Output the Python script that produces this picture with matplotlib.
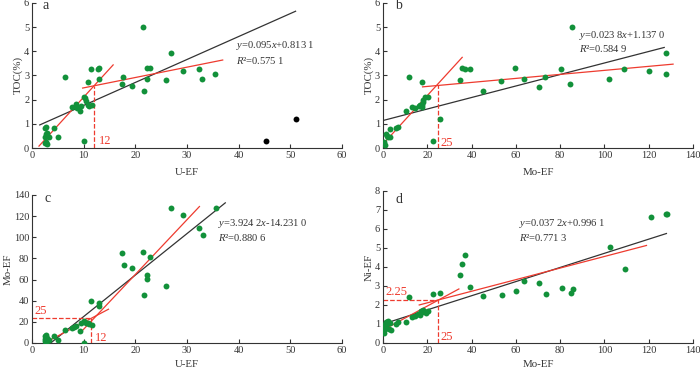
import numpy as np
import matplotlib
matplotlib.use("Agg")
import matplotlib.pyplot as plt

plt.rcParams['font.family'] = ['Liberation Serif', 'DejaVu Serif']
plt.rcParams['mathtext.fontset'] = 'custom'
plt.rcParams['mathtext.rm'] = 'Liberation Serif'
plt.rcParams['mathtext.it'] = 'Liberation Serif:italic'

GREEN = "#12913a"
RED = "#ee3b2f"
DARK = "#333333"

# ---- data ----
# a: U-EF vs TOC
u_a = [21.5, 26.8, 6.45, 11.5, 12.8, 13.0, 10.8, 12.9, 17.7, 17.5, 19.3, 22.2, 22.8, 22.3, 21.7,
       25.9, 29.3, 32.3, 32.9, 35.5, 10.1, 10.2, 10.5, 8.5, 8.7, 9.2, 7.7, 9.4, 10.8, 11.1, 11.6,
       2.6, 2.8, 4.3, 2.5, 2.8, 3.0, 2.9, 3.3, 2.5, 2.8, 3.0, 5.1, 10.1]
toc_a = [5.0, 3.92, 2.93, 3.28, 3.26, 3.3, 2.73, 2.84, 2.95, 2.66, 2.55, 3.3, 3.29, 2.86, 2.37,
         2.8, 3.2, 3.28, 2.86, 3.07, 2.13, 2.05, 1.93, 1.83, 1.66, 1.52, 1.68, 1.72, 1.78, 1.75, 1.78,
         0.82, 0.85, 0.84, 0.45, 0.58, 0.62, 0.5, 0.47, 0.2, 0.25, 0.15, 0.44, 0.3]
u_a_out = [45.3, 51.0]
toc_a_out = [0.3, 1.22]

# b: Mo-EF vs TOC
mo_b = [85.2, 127.7, 127.6, 120.3, 109.0, 102.2, 84.5, 80.4, 73.3, 70.5, 63.7, 59.8, 53.3, 45.0,
        34.8, 35.8, 37.0, 39.3, 11.9, 17.8, 25.7, 22.7, 10.4, 13.1, 14.5, 16.2, 16.8, 17.5, 17.6,
        18.0, 19.0, 20.3, 18.2, 6.1, 6.9, 3.1, 1.4, 1.7, 2.5, 3.4, 0.2, 0.8, 0.4]
toc_b = [5.0, 3.92, 3.05, 3.2, 3.27, 2.84, 2.64, 3.28, 2.93, 2.53, 2.84, 3.3, 2.78, 2.36,
         2.8, 3.3, 3.25, 3.28, 2.93, 2.73, 1.22, 0.3, 1.52, 1.68, 1.66, 1.72, 1.8, 1.78, 1.68,
         2.0, 2.1, 2.13, 1.92, 0.84, 0.87, 0.8, 0.6, 0.5, 0.45, 0.46, 0.2, 0.12, 0.25]

# c: U-EF vs Mo-EF
u_c = [26.8, 29.2, 35.6, 32.3, 33.0, 17.5, 21.5, 22.8, 17.8, 19.3, 22.3, 22.3, 25.9, 21.7,
       11.5, 12.9, 13.0, 10.1, 10.5, 10.8, 11.1, 11.6, 9.4, 9.2, 6.45, 7.7, 8.1, 8.5, 10.1,
       4.3, 5.1, 2.6, 2.8, 2.5, 2.6, 2.8, 3.0, 3.3, 2.9]
mo_c = [128, 121, 128, 109, 102.5, 85, 86, 81, 74, 71, 64, 60.5, 54, 45.7,
        40, 37.5, 35, 20.5, 19, 18.5, 17.8, 17.2, 19, 11, 12.5, 14, 15.5, 16, 0.3,
        6.5, 3, 6.5, 7.5, 3.5, 1.5, 0.2, 2.5, 3, 4.8]

# d: Mo-EF vs Ni-EF
mo_d = [127.8, 128.3, 121.0, 102.5, 109.3, 81.0, 85.0, 86.0, 70.6, 73.8, 63.7, 60.0, 53.6, 45.3,
        39.3, 37.2, 35.8, 34.8, 25.7, 22.7, 11.9, 13.1, 14.5, 16.0, 16.8, 17.5, 18.2, 19.5, 20.5,
        17.0, 10.4, 6.1, 6.9, 3.0, 2.4, 1.3, 2.0, 0.0, 0.5, 1.0, 1.5, 2.7, 3.6, 0.5, 0.2]
ni_d = [6.8, 6.78, 6.62, 5.07, 3.87, 2.87, 2.61, 2.84, 3.17, 2.56, 3.24, 2.75, 2.5, 2.45,
        2.92, 4.62, 4.15, 3.57, 2.64, 2.57, 2.42, 1.35, 1.4, 1.5, 1.45, 1.65, 1.75, 1.6, 1.68,
        1.7, 1.12, 1.0, 1.08, 1.05, 1.14, 1.1, 1.12, 0.65, 0.8, 0.72, 0.9, 0.72, 0.7, 0.55, 0.95]

# fits: (slope, intercept, x_start, x_end)
black_fits = {
    'a': (0.095, 0.8131, 1.5, 51.0),
    'b': (0.0238, 1.1370, 0.0, 127.0),
    'c': (3.9242, -14.2310, 3.6, 37.4),
    'd': (0.0372, 0.9961, 0.0, 128.0),
}
red_fits = {
    'a': [(0.234, -0.236, 1.35, 15.7), (0.0428, 2.061, 9.8, 36.9)],
    'b': [(0.1003, 0.16, 0.0, 35.8), (0.00831, 2.381, 17.9, 131.0)],
    'c': [(2.58, -6.24, 3.0, 14.8), (5.18, -38.76, 9.8, 32.4)],
    'd': [(0.063, 0.68, 0.0, 34.3), (0.0305, 1.5, 16.4, 119.0)],
}
equations = {
    'a': (r"$\it{y}$=0.095$\it{x}$+0.813 1", r"$\it{R}$²=0.575 1"),
    'b': (r"$\it{y}$=0.023 8$\it{x}$+1.137 0", r"$\it{R}$²=0.584 9"),
    'c': (r"$\it{y}$=3.924 2$\it{x}$-14.231 0", r"$\it{R}$²=0.880 6"),
    'd': (r"$\it{y}$=0.037 2$\it{x}$+0.996 1", r"$\it{R}$²=0.771 3"),
}

fig = plt.figure(figsize=(7, 3.71), dpi=100)
ax_a = fig.add_axes([0.0457, 0.601, 0.443, 0.391])
ax_b = fig.add_axes([0.547, 0.601, 0.443, 0.391])
ax_c = fig.add_axes([0.0457, 0.0755, 0.443, 0.399])
ax_d = fig.add_axes([0.547, 0.0755, 0.443, 0.410])

TICK_FS = 7.5
LABEL_FS = 7.8
EQ_FS = 7.6
NOTE_FS = 9


def style(ax, xmax, xstep, ymax, ystep, xlabel, ylabel, xpad=6):
    ax.set_xlim(0, xmax)
    ax.set_ylim(0, ymax)
    ax.set_xticks(np.arange(0, xmax + 0.1, xstep))
    ax.set_yticks(np.arange(0, ymax + 0.1, ystep))
    for s in ['top', 'right']:
        ax.spines[s].set_visible(False)
    for s in ['left', 'bottom']:
        ax.spines[s].set_color(DARK)
        ax.spines[s].set_linewidth(0.8)
    ax.tick_params(direction='in', length=3, width=0.8, colors=DARK, labelsize=TICK_FS, pad=2)
    ax.set_xlabel(xlabel, fontsize=LABEL_FS, color=DARK, labelpad=xpad)
    ax.set_ylabel(ylabel, fontsize=LABEL_FS, color=DARK, labelpad=1)


def draw_fits(ax, key):
    k, b, x0, x1 = black_fits[key]
    xs = np.array([x0, x1])
    ax.plot(xs, k * xs + b, color=DARK, lw=0.9, zorder=2)
    for k, b, x0, x1 in red_fits[key]:
        xs = np.array([x0, x1])
        ax.plot(xs, k * xs + b, color=RED, lw=0.9, zorder=2)


def put_eq(ax, key, x, y1, y2):
    l1, l2 = equations[key]
    ax.text(x, y1, l1, fontsize=EQ_FS, color=DARK, ha='left', va='center')
    ax.text(x, y2, l2, fontsize=EQ_FS, color=DARK, ha='left', va='center')


# a
style(ax_a, 60, 10, 6, 1, "U-EF", "TOC(%)")
draw_fits(ax_a, 'a')
ax_a.scatter(u_a, toc_a, s=18, color=GREEN, zorder=3, linewidths=0)
ax_a.scatter(u_a_out, toc_a_out, s=18, color="black", zorder=3, linewidths=0)
ax_a.plot([12, 12], [0, 2.57], ls='--', color=RED, lw=0.9)
ax_a.text(13.0, 0.28, "12", color=RED, fontsize=NOTE_FS, va='center')
put_eq(ax_a, 'a', 39.5, 4.25, 3.64)
ax_a.text(2.0, 5.9, "a", fontsize=10, color=DARK, va='center')

# b
style(ax_b, 140, 20, 6, 1, "Mo-EF", "TOC(%)")
draw_fits(ax_b, 'b')
ax_b.scatter(mo_b, toc_b, s=18, color=GREEN, zorder=3, linewidths=0)
ax_b.plot([25, 25], [0, 2.6], ls='--', color=RED, lw=0.9)
ax_b.text(26.0, 0.22, "25", color=RED, fontsize=NOTE_FS, va='center')
put_eq(ax_b, 'b', 88.7, 4.67, 4.13)
ax_b.text(5.5, 5.9, "b", fontsize=10, color=DARK, va='center')

# c
style(ax_c, 60, 10, 140, 20, "U-EF", "Mo-EF", xpad=4)
draw_fits(ax_c, 'c')
ax_c.scatter(u_c, mo_c, s=18, color=GREEN, zorder=3, linewidths=0)
ax_c.plot([11.5, 11.5], [0, 24], ls='--', color=RED, lw=0.9)
ax_c.plot([0, 11.5], [24, 24], ls='--', color=RED, lw=0.9)
ax_c.text(12.2, 5.0, "12", color=RED, fontsize=NOTE_FS, va='center')
ax_c.text(0.5, 30.5, "25", color=RED, fontsize=NOTE_FS, va='center')
put_eq(ax_c, 'c', 35.9, 113, 100)
ax_c.text(2.5, 137, "c", fontsize=10, color=DARK, va='center')

# d
style(ax_d, 140, 20, 8, 1, "Mo-EF", "Ni-EF", xpad=4)
draw_fits(ax_d, 'd')
ax_d.scatter(mo_d, ni_d, s=18, color=GREEN, zorder=3, linewidths=0)
ax_d.plot([25, 25], [0, 2.27], ls='--', color=RED, lw=0.9)
ax_d.plot([0, 25], [2.27, 2.27], ls='--', color=RED, lw=0.9)
ax_d.text(26.0, 0.33, "25", color=RED, fontsize=NOTE_FS, va='center')
ax_d.text(1.2, 2.66, "2.25", color=RED, fontsize=NOTE_FS, va='center')
put_eq(ax_d, 'd', 61.6, 6.29, 5.53)
ax_d.text(5.5, 7.55, "d", fontsize=10, color=DARK, va='center')

fig.savefig("out.png", dpi=100)
